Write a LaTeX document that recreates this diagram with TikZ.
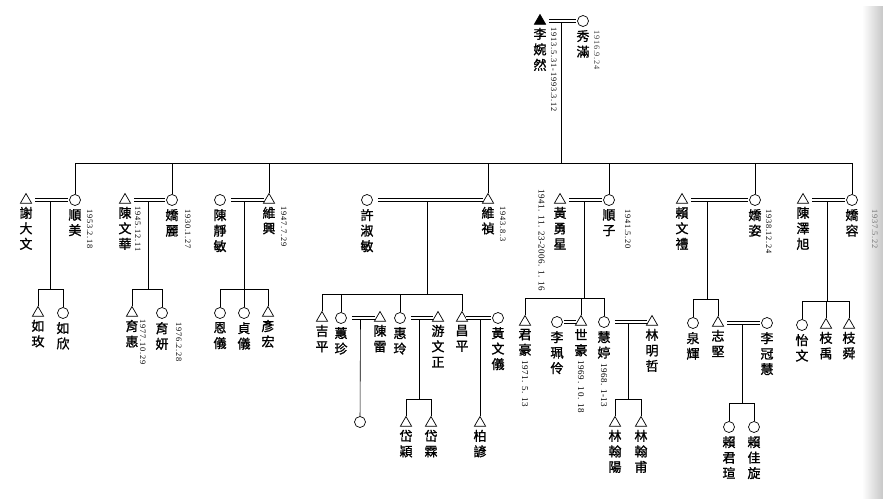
\documentclass[tikz,border=0pt]{standalone}
\usepackage{fontspec}
\newfontfamily\cjk[FakeBold=1.2]{Noto Sans CJK TC}
\newfontfamily\datefont[LetterSpace=10]{Liberation Serif}
\newfontfamily\datefontb[LetterSpace=6]{Liberation Serif}
\usetikzlibrary{positioning, shapes.geometric, calc}

\begin{document}
\begin{tikzpicture}[x=1pt, y=-1pt, line width=.6pt,
		male/.style={draw, regular polygon, regular polygon sides=3, minimum size=13pt, inner sep=0pt, line width=.7pt},
		dead/.style={male, fill=black},
		female/.style={draw, circle, minimum size=11pt, inner sep=0pt, line width=.7pt},
		vname/.style={font=\cjk\fontsize{13}{15.5}\selectfont, align=center, inner sep=0pt},
		bday/.style={rotate=-90, anchor=south west, inner sep=0pt, font=\datefont\fontsize{8.3}{8.3}\selectfont},
		bday2/.style={rotate=-90, anchor=west, inner sep=0pt, font=\datefontb\fontsize{9}{9}\selectfont},
		wed/.style={double, double distance=2.2pt, line width=.55pt, shorten <=5pt, shorten >=1pt}]
		\useasboundingbox (0,0) rectangle (883,498);
		\shade[left color=white, right color=black!22] (862,6) rectangle (883,498);
		
		\node[dead]   (li)  at (540,21) {};
		\node[female] (xiu) at (583,21) {};
		\node[vname, below=3pt of li]  (liN)  {李\\婉\\然};
		\node[vname, below=3pt of xiu] (xiuN) {秀\\滿};
		\node[bday] at ([xshift=4pt]liN.north east)  {1913.5.31-1993.3.12};
		\node[bday, black!75] at ([xshift=4pt]xiuN.north east) {1916.9.24};
		
		\node[male]   (xie)      at (26,200)  {};
		\node[female] (shunmei)  at (75,200)  {};
		\node[male]   (chenwh)   at (125,200) {};
		\node[female] (jiaoli)   at (172,200) {};
		\node[female] (chenjm)   at (220,200) {};
		\node[male]   (weixing)  at (269,200) {};
		\node[female] (xusm)     at (367,200) {};
		\node[male]   (weizhen)  at (488,200) {};
		\node[male]   (huangyx)  at (560,200) {};
		\node[female] (shunzi)   at (609,200) {};
		\node[male]   (laiwl)    at (682,200) {};
		\node[female] (jiaozi)   at (755,200) {};
		\node[male]   (chenzx)   at (803,200) {};
		\node[female] (jiaorong) at (852,200) {};
		
		\node[vname, below=3pt of xie]      (xieN)      {謝\\大\\文};
		\node[vname, below=3pt of shunmei]  (shunmeiN)  {順\\美};
		\node[vname, below=3pt of chenwh]   (chenwhN)   {陳\\文\\華};
		\node[vname, below=3pt of jiaoli]   (jiaoliN)   {嬌\\麗};
		\node[vname, below=3pt of chenjm]   (chenjmN)   {陳\\靜\\敏};
		\node[vname, below=3pt of weixing]  (weixingN)  {維\\興};
		\node[vname, below=3pt of xusm]     (xusmN)     {許\\淑\\敏};
		\node[vname, below=3pt of weizhen]  (weizhenN)  {維\\禎};
		\node[vname, below=3pt of huangyx]  (huangyxN)  {黃\\勇\\星};
		\node[vname, below=3pt of shunzi]   (shunziN)   {順\\子};
		\node[vname, below=3pt of laiwl]    (laiwlN)    {賴\\文\\禮};
		\node[vname, below=3pt of jiaozi]   (jiaoziN)   {嬌\\姿};
		\node[vname, below=3pt of chenzx]   (chenzxN)   {陳\\澤\\旭};
		\node[vname, below=3pt of jiaorong] (jiaorongN) {嬌\\容};
		
		\node[bday] at ([xshift=5pt]shunmeiN.north east)  {1953.2.18};
		\node[bday] at ([xshift=3pt]chenwhN.north east)   {1945.12.11};
		\node[bday] at ([xshift=6pt]jiaoliN.north east)   {1930.1.27};
		\node[bday] at ([xshift=5pt]weixingN.north east)  {1947.7.29};
		\node[bday] at ([xshift=5pt]weizhenN.north east)  {1943.8.3};
		\node[bday] at ([xshift=9pt]shunziN.north east)   {1941.5.20};
		\node[bday] at ([xshift=4pt]jiaoziN.north east)   {1938.12.24};
		\node[bday, black!55] at ([xshift=13pt]jiaorongN.north east) {1937.5.22};
		\node[bday2, anchor=north west] at ([xshift=-15pt,yshift=11pt]huangyx.center) {1941. 11. 23-2006. 1. 16};
		
		\node[male]   (rumei)    at (38,313)  {};
		\node[female] (ruxin)    at (63,313)  {};
		\node[male]   (yuhui)    at (132,313) {};
		\node[female] (yuyan)    at (162,313) {};
		\node[female] (enyi)     at (220,313) {};
		\node[female] (zhenyi)   at (244,313) {};
		\node[male]   (yanhong)  at (268,313) {};
		\node[male]   (jiping)   at (322,318) {};
		\node[female] (huizhen)  at (341,318) {};
		\node[male]   (chenlei)  at (380,318) {};
		\node[female] (huiling)  at (400,318) {};
		\node[male]   (youwz)    at (438,318) {};
		\node[male]   (changping) at (462,318) {};
		\node[female] (huangwy)  at (498,318) {};
		\node[male]   (junhao)   at (525,322) {};
		\node[female] (lipl)     at (557,322) {};
		\node[male]   (shihao)   at (581,322) {};
		\node[female] (huiting)  at (604,322) {};
		\node[male]   (linmz)    at (652,322) {};
		\node[female] (quanhui)  at (693,323) {};
		\node[male]   (zhijian)  at (718,323) {};
		\node[female] (ligh)     at (767,323) {};
		\node[female] (yiwen)    at (802,325) {};
		\node[male]   (zhiyu)    at (826,325) {};
		\node[male]   (zhishun)  at (849,325) {};
		
		\node[vname, below=3pt of rumei]     (rumeiN)     {如\\玫};
		\node[vname, below=3pt of ruxin]     (ruxinN)     {如\\欣};
		\node[vname, below=3pt of yuhui]     (yuhuiN)     {育\\惠};
		\node[vname, below=3pt of yuyan]     (yuyanN)     {育\\妍};
		\node[vname, below=3pt of enyi]      (enyiN)      {恩\\儀};
		\node[vname, below=3pt of zhenyi]    (zhenyiN)    {貞\\儀};
		\node[vname, below=3pt of yanhong]   (yanhongN)   {彥\\宏};
		\node[vname, below=3pt of jiping]    (jipingN)    {吉\\平};
		\node[vname, below=3pt of huizhen]   (huizhenN)   {蕙\\珍};
		\node[vname, below=3pt of chenlei]   (chenleiN)   {陳\\雷};
		\node[vname, below=3pt of huiling]   (huilingN)   {惠\\玲};
		\node[vname, below=3pt of youwz]     (youwzN)     {游\\文\\正};
		\node[vname, below=3pt of changping] (changpingN) {昌\\平};
		\node[vname, below=3pt of huangwy]   (huangwyN)   {黃\\文\\儀};
		\node[vname, below=3pt of junhao]    (junhaoN)    {君\\豪};
		\node[vname, below=3pt of lipl]      (liplN)      {李\\珮\\伶};
		\node[vname, below=3pt of shihao]    (shihaoN)    {世\\豪};
		\node[vname, below=3pt of huiting]   (huitingN)   {慧\\婷};
		\node[vname, below=3pt of linmz]     (linmzN)     {林\\明\\哲};
		\node[vname, below=3pt of quanhui]   (quanhuiN)   {泉\\輝};
		\node[vname, below=3pt of zhijian]   (zhijianN)   {志\\堅};
		\node[vname, below=3pt of ligh]      (lighN)      {李\\冠\\慧};
		\node[vname, below=3pt of yiwen]     (yiwenN)     {怡\\文};
		\node[vname, below=3pt of zhiyu]     (zhiyuN)     {枝\\禹};
		\node[vname, below=3pt of zhishun]   (zhishunN)   {枝\\舜};
		
		\node[bday] at ([xshift=1pt]yuhuiN.north east) {1977.10.29};
		\node[bday] at ([xshift=7pt]yuyanN.north east) {1976.2.28};
		\node[bday2] at ([yshift=-4pt]junhaoN.south)  {1971. 5. 13};
		\node[bday2] at ([yshift=-4pt]shihaoN.south)  {1969. 10. 18};
		\node[bday2] at ([yshift=-4pt]huitingN.south) {1968. 1-13};
		
		\node[female] (hzchild)  at (360,422) {};
		\node[male]   (daiying)  at (406,423) {};
		\node[male]   (dailin)   at (431,423) {};
		\node[male]   (boyan)    at (480,423) {};
		\node[male]   (linhy)    at (615,423) {};
		\node[male]   (linhf)    at (641,423) {};
		\node[female] (laijx)    at (729,427) {};
		\node[female] (laijiax)  at (754,427) {};
		
		\node[vname, below=3pt of daiying] (daiyingN) {岱\\穎};
		\node[vname, below=3pt of dailin]  (dailinN)  {岱\\霖};
		\node[vname, below=3pt of boyan]   (boyanN)   {柏\\諺};
		\node[vname, below=3pt of linhy]   (linhyN)   {林\\翰\\陽};
		\node[vname, below=3pt of linhf]   (linhfN)   {林\\翰\\甫};
		\node[vname, below=3pt of laijx]   (laijxN)   {賴\\君\\瑄};
		\node[vname, below=3pt of laijiax] (laijiaxN) {賴\\佳\\旋};
		
		\coordinate (m0) at ($(li)!.5!(xiu)$);
		\coordinate (m1) at ($(xie)!.5!(shunmei)$);
		\coordinate (m2) at ($(chenwh)!.5!(jiaoli)$);
		\coordinate (m3) at ($(chenjm)!.5!(weixing)$);
		\coordinate (m4) at ($(xusm)!.5!(weizhen)$);
		\coordinate (m5) at ($(huangyx)!.5!(shunzi)$);
		\coordinate (m6) at (707,200);
		\coordinate (m7) at ($(chenzx)!.5!(jiaorong)$);
		\coordinate (m41) at ($(huizhen)!.5!(chenlei)$);
		\coordinate (m42) at ($(huiling)!.5!(youwz)$);
		\coordinate (m43) at (480,318);
		\coordinate (m51) at ($(huiting)!.5!(linmz)$);
		\coordinate (m61) at ($(zhijian)!.5!(ligh)$);
		
		\foreach \c in {shunmei, jiaoli, weixing, weizhen, shunzi, jiaozi, jiaorong}
			\draw (m0) |- ([yshift=37pt]\c.center) -- (\c);
		\foreach \m/\c in {m1/rumei, m1/ruxin, m2/yuhui, m2/yuyan, m3/enyi, m3/zhenyi, m3/yanhong,
				m4/jiping, m4/huizhen, m4/huiling, m4/changping, m5/junhao, m5/shihao, m5/huiting,
				m6/quanhui, m6/zhijian, m7/yiwen, m7/zhiyu, m7/zhishun,
				m42/daiying, m42/dailin, m51/linhy, m51/linhf, m61/laijx, m61/laijiax}
			\draw (\m) |- ([yshift=24pt]\c.center) -- (\c);
		\draw (m41) -- (hzchild);
		\draw (m43) -- (boyan);
		
		\draw[wed] (li) -- (xiu);
		\draw[wed] (xie) -- (shunmei);
		\draw[wed] (chenwh) -- (jiaoli);
		\draw[wed] (chenjm) -- (weixing);
		\draw[wed] (xusm) -- (weizhen);
		\draw[wed] (huangyx) -- (shunzi);
		\draw[wed] (laiwl) -- (jiaozi);
		\draw[wed] (chenzx) -- (jiaorong);
		\draw[wed] (huizhen) -- (chenlei);
		\draw[wed] (huiling) -- (youwz);
		\draw[wed, shorten <=0pt] (changping) -- (huangwy);
		\draw[wed, shorten <=1pt] (lipl) -- (shihao);
		\draw[wed] (huiting) -- (linmz);
		\draw[wed] (zhijian) -- (ligh);
	\end{tikzpicture}
\end{document}
